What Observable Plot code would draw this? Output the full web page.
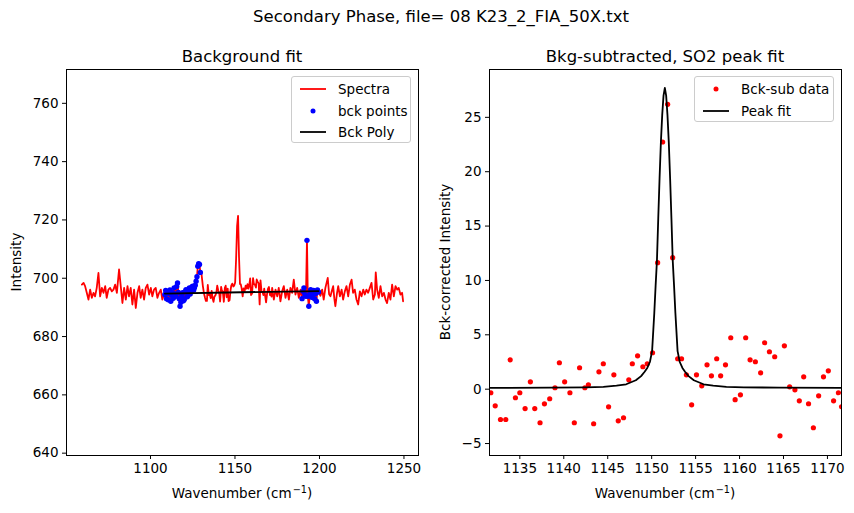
<!DOCTYPE html>
<html>
<head>
<meta charset="utf-8">
<script src="https://cdn.jsdelivr.net/npm/d3@7"></script>
<script src="https://cdn.jsdelivr.net/npm/@observablehq/plot@0.6"></script>
<style>
  html, body { margin: 0; padding: 0; background: #fff; }
  #fig { position: relative; width: 854px; height: 513px; background: #fff;
         font-family: "DejaVu Sans", sans-serif; color: #000; overflow: hidden; }
  #fig svg.panel { position: absolute; top: 0; }
  .txt { position: absolute; white-space: nowrap; line-height: 1; }
  .center { transform: translate(-50%, -50%); }
  .rot { transform: translate(-50%, -50%) rotate(-90deg); }
  .sup { font-size: 0.72em; display: inline-block; transform: translateY(-0.55em); margin-left: 1px; }
  .legend { position: absolute; background: rgba(255,255,255,0.8);
            border: 1px solid #cccccc; border-radius: 3px; box-sizing: border-box; }
  .legend .row { position: absolute; left: 0; height: 20px; display: flex; align-items: center;
                 font-size: 13.5px; }
  .legend svg { display: block; }
</style>
</head>
<body>
<div id="fig"></div>
<script>
// Raw spectrum: [wavenumber (cm-1), intensity]
const spectrum = [
  [1059.4,697.8],[1060.4,698.4],[1061.3,697.3],[1062.3,695.0],[1063.3,692.7],[1064.3,696.1],
  [1065.3,693.3],[1066.3,695.0],[1067.2,693.8],[1068.2,696.7],[1069.2,701.8],[1070.2,693.8],
  [1071.2,696.7],[1072.2,695.0],[1073.2,697.3],[1074.1,693.3],[1075.1,696.1],[1076.1,696.7],
  [1077.1,695.5],[1078.1,696.1],[1079.1,697.8],[1080.1,695.0],[1081.4,703.0],[1082.4,697.3],
  [1083.4,691.5],[1084.4,696.7],[1085.4,692.7],[1086.4,697.3],[1087.3,693.8],[1088.3,696.7],
  [1089.3,691.0],[1090.3,696.1],[1091.3,689.8],[1092.3,695.0],[1093.3,697.3],[1094.2,693.3],
  [1095.2,696.1],[1096.2,692.7],[1097.2,696.7],[1098.2,697.8],[1099.2,694.4],[1100.2,696.7],
  [1101.1,693.8],[1102.1,696.1],[1103.1,696.7],[1104.1,693.3],[1105.1,695.0],[1106.1,696.1],
  [1107.0,692.7],[1108.0,694.4],
  [1108.5,694.4],[1109.0,695.8],[1109.5,693.0],[1110.0,695.0],[1110.5,692.6],[1111.0,694.8],
  [1111.5,696.0],[1112.0,692.1],[1112.5,694.2],[1113.0,695.0],[1113.5,693.1],[1114.0,696.7],
  [1114.5,694.6],[1115.0,693.8],[1115.5,697.2],[1116.0,698.4],[1116.5,695.1],[1117.0,693.0],
  [1117.5,690.4],[1118.0,691.8],[1118.5,694.0],[1119.0,695.0],[1119.5,692.3],[1120.0,692.7],
  [1120.5,695.4],[1121.0,696.1],[1121.5,693.6],[1122.0,693.8],[1122.5,695.9],[1123.0,696.7],
  [1123.5,694.6],[1124.0,695.5],[1124.5,697.0],[1125.0,697.3],[1125.5,695.9],[1126.0,696.7],
  [1126.5,697.6],[1127.0,699.0],[1127.5,700.5],[1128.0,704.1],[1128.5,705.0],[1129.0,704.7],
  [1129.5,702.0],[1130.0,702.4],[1131.0,697.3],
  [1131.7,694.67],[1132.2,693.47],[1132.8,692.21],[1133.4,692.21],[1133.9,697.70],[1134.5,694.21],
  [1135.0,694.67],[1135.6,693.22],[1136.2,695.68],[1136.7,693.22],[1137.3,691.91],[1137.8,693.65],
  [1138.4,694.12],[1139.0,695.13],[1139.5,697.43],[1140.1,695.78],[1140.7,694.77],[1141.2,692.01],
  [1141.8,697.07],[1142.4,695.23],[1142.8,695.50],[1143.4,691.92],[1144.0,696.70],[1144.5,697.44],
  [1145.1,693.48],[1145.7,696.42],[1146.2,692.19],[1146.8,692.47],[1147.4,695.96],[1147.8,697.44],
  [1148.4,698.17],[1149.0,697.16],[1149.5,697.44],[1150.1,698.55],[1150.68,706.83],[1151.25,717.93],
  [1151.82,721.40],[1152.39,707.29],[1152.96,698.00],[1153.4,698.00],[1153.95,696.52],[1154.55,693.76],
  [1155.1,696.52],[1155.7,695.51],[1156.3,697.44],[1156.8,696.43],[1157.4,698.00],[1157.85,696.43],
  [1158.4,697.44],[1159.0,699.93],[1159.5,694.23],[1160.1,694.78],[1160.7,700.03],[1161.2,698.00],
  [1161.8,697.82],[1162.4,696.80],[1162.85,699.57],[1163.4,698.74],[1164.0,698.28],[1164.6,691.01],
  [1165.1,699.29],[1165.7,695.52],[1166.3,695.24],[1166.8,694.23],[1167.3,696.44],[1167.85,693.96],
  [1168.4,691.75],[1169.0,694.69],[1169.55,696.44],[1170.1,696.99],[1170.7,694.23],[1171.25,694.97],
  [1171.6,693.68],
  [1172.0,696.7],[1173.0,692.7],[1174.0,696.1],[1175.0,693.8],[1175.9,696.7],[1176.9,692.1],
  [1177.9,695.5],[1178.9,697.3],[1179.9,693.3],[1180.9,696.1],[1181.9,692.7],[1182.8,696.7],
  [1183.8,695.0],[1184.8,699.5],[1185.8,694.4],[1186.8,696.7],[1187.8,693.3],[1188.8,696.1],
  [1189.7,693.0],[1190.3,695.5],[1190.8,696.7],[1191.4,694.4],[1192.0,693.8],[1192.6,713.0],
  [1193.1,693.8],[1193.7,690.4],[1194.3,694.6],[1194.8,696.1],[1195.4,693.5],[1196.0,694.6],
  [1196.5,695.8],[1197.1,693.0],[1197.7,694.8],[1198.2,692.1],[1198.8,696.0],[1199.4,695.3],
  [1200.6,694.0],[1201.6,696.1],[1202.5,692.7],[1203.5,696.7],[1204.9,700.1],[1205.7,694.5],
  [1206.5,693.8],[1207.3,695.6],[1208.1,697.3],[1208.8,693.0],[1209.4,690.4],[1210.4,695.0],
  [1211.1,697.3],[1212.1,693.8],[1213.1,696.1],[1214.0,692.7],[1215.0,695.5],[1216.0,697.3],
  [1217.0,693.8],[1218.0,697.8],[1219.0,699.5],[1219.9,695.0],[1220.9,696.1],[1221.9,692.7],
  [1222.9,691.0],[1223.9,695.5],[1224.9,693.8],[1225.9,696.1],[1226.8,694.4],[1227.8,696.1],
  [1228.8,695.0],[1229.8,696.7],[1230.8,698.4],[1231.8,692.7],[1232.8,694.4],[1233.3,702.0],
  [1234.1,696.1],[1235.1,693.3],[1236.1,697.3],[1237.1,693.8],[1238.1,695.0],[1239.1,692.7],
  [1240.0,691.5],[1241.0,695.0],[1242.0,692.7],[1243.0,697.8],[1244.0,693.8],[1245.0,697.3],
  [1246.0,696.1],[1246.9,696.7],[1247.9,694.4],[1248.9,695.0],[1249.5,692.1]
];

// Wavenumber windows used as background points
const bckWindows = [[1108.4, 1129.6], [1189.6, 1199.5]];

// Fitted background polynomial
const bckPoly = [[1108.5, 694.75], [1154.0, 695.2], [1199.4, 695.6]];

// Background-subtracted data around the SO2 band
const subData = [
  [1131.7,-0.33],[1132.2,-1.53],[1132.8,-2.79],[1133.4,-2.79],[1133.9,2.70],[1134.5,-0.79],
  [1135.0,-0.33],[1135.6,-1.78],[1136.2,0.68],[1136.7,-1.78],[1137.3,-3.09],[1137.8,-1.35],
  [1138.4,-0.88],[1139.0,0.13],[1139.5,2.43],[1140.1,0.68],[1140.7,-0.33],[1141.2,-3.09],
  [1141.8,1.97],[1142.4,0.13],[1142.8,0.40],[1143.4,-3.18],[1144.0,1.60],[1144.5,2.34],
  [1145.1,-1.62],[1145.7,1.32],[1146.2,-2.91],[1146.8,-2.63],[1147.4,0.86],[1147.8,2.34],
  [1148.4,3.07],[1149.0,2.06],[1149.5,2.34],[1150.1,3.35],[1150.68,11.63],[1151.25,22.73],
  [1151.82,26.20],[1152.39,12.09],[1152.96,2.80],[1153.4,2.80],[1153.95,1.32],[1154.55,-1.44],
  [1155.1,1.32],[1155.7,0.31],[1156.3,2.24],[1156.8,1.23],[1157.4,2.80],[1157.85,1.23],
  [1158.4,2.24],[1159.0,4.73],[1159.5,-0.97],[1160.1,-0.52],[1160.7,4.73],[1161.2,2.70],
  [1161.8,2.52],[1162.4,1.50],[1162.85,4.27],[1163.4,3.44],[1164.0,2.98],[1164.6,-4.29],
  [1165.1,3.99],[1165.7,0.22],[1166.3,-0.06],[1166.8,-1.07],[1167.3,1.14],[1167.85,-1.34],
  [1168.4,-3.55],[1169.0,-0.61],[1169.55,1.14],[1170.1,1.69],[1170.7,-1.07],[1171.25,-0.33],
  [1171.6,-1.62]
];

// Peak fit curve
const peakFit = [
  [1131.5,0.12],[1138.5,0.14],[1142.5,0.17],[1144.5,0.22],[1146.0,0.32],[1147.1,0.45],
  [1148.2,0.82],[1148.8,1.2],[1149.2,1.6],[1149.5,1.95],[1149.8,2.5],[1150.05,3.5],
  [1150.3,7.0],[1150.45,9.5],[1150.6,11.8],[1150.75,15.7],[1150.9,19.4],[1151.05,22.7],
  [1151.2,25.2],[1151.35,27.0],[1151.5,27.7],[1151.65,27.0],[1151.8,25.2],[1151.95,22.7],
  [1152.1,19.4],[1152.25,15.7],[1152.4,11.8],[1152.55,9.5],[1152.7,7.0],[1152.95,3.5],
  [1153.2,2.5],[1153.5,1.95],[1153.8,1.6],[1154.2,1.2],[1154.8,0.82],[1155.9,0.45],
  [1157.0,0.32],[1158.5,0.22],[1160.5,0.17],[1164.5,0.14],[1171.7,0.12]
];

// Axis ticks
const leftXTicks = [1100, 1150, 1200, 1250];
const leftYTicks = [640, 660, 680, 700, 720, 740, 760];
const rightXTicks = [1135, 1140, 1145, 1150, 1155, 1160, 1165, 1170];
const rightYTicks = [-5, 0, 5, 10, 15, 20, 25];

// Text
const supTitle = "Secondary Phase, file= 08 K23_2_FIA_50X.txt";
const leftTitle = "Background fit";
const rightTitle = "Bkg-subtracted, SO2 peak fit";
const leftYLabel = "Intensity";
const rightYLabel = "Bck-corrected Intensity";
const leftLegend = ["Spectra", "bck points", "Bck Poly"];
const rightLegend = ["Bck-sub data", "Peak fit"];

const inWindow = d => bckWindows.some(([a, b]) => d[0] >= a && d[0] <= b);
const bckPoints = spectrum.filter(inWindow);

const fig = document.getElementById("fig");
const axisStyle = {
  fontFamily: "DejaVu Sans, sans-serif",
  fontSize: "13.5px",
  color: "#000",
  background: "transparent",
  overflow: "visible"
};
const X = d => d[0], Y = d => d[1];

const left = Plot.plot({
  width: 430, height: 513,
  marginLeft: 66, marginRight: 12, marginTop: 69, marginBottom: 58,
  style: axisStyle,
  x: { domain: [1050.3, 1258.6], ticks: leftXTicks, tickFormat: d => String(d), tickSize: 4, tickPadding: 4, label: null },
  y: { domain: [639.2, 771.6], ticks: leftYTicks, tickFormat: d => String(d), tickSize: 4, tickPadding: 4, label: null },
  marks: [
    Plot.line(spectrum, { x: X, y: Y, stroke: "red", strokeWidth: 1.8 }),
    Plot.dot(bckPoints, { x: X, y: Y, r: 2.7, fill: "blue", stroke: "none" }),
    Plot.line(bckPoly, { x: X, y: Y, stroke: "black", strokeWidth: 1.8 }),
    Plot.frame({ stroke: "black", strokeWidth: 1 })
  ]
});
left.classList.add("panel");
left.style.left = "0px";
fig.appendChild(left);

const right = Plot.plot({
  width: 424, height: 513,
  marginLeft: 59, marginRight: 13, marginTop: 69, marginBottom: 58,
  style: axisStyle,
  x: { domain: [1131.55, 1171.6], ticks: rightXTicks, tickFormat: d => String(d), tickSize: 4, tickPadding: 4, label: null },
  y: { domain: [-6.1, 29.4], ticks: rightYTicks, tickFormat: d => (d < 0 ? "\u2212" + Math.abs(d) : String(d)), tickSize: 4, tickPadding: 4, label: null },
  marks: [
    Plot.dot(subData, { x: X, y: Y, r: 2.6, fill: "red", stroke: "none", clip: true }),
    Plot.line(peakFit, { x: X, y: Y, stroke: "black", strokeWidth: 1.8, clip: true }),
    Plot.frame({ stroke: "black", strokeWidth: 1 })
  ]
});
right.classList.add("panel");
right.style.left = "430px";
fig.appendChild(right);

function addText(html, x, y, size, cls) {
  const el = document.createElement("div");
  el.className = "txt " + cls;
  el.style.left = x + "px";
  el.style.top = y + "px";
  el.style.fontSize = size + "px";
  el.innerHTML = html;
  fig.appendChild(el);
}
const wnLabel = 'Wavenumber (cm<span class="sup">\u22121</span>)';
addText(supTitle, 441, 17, 16.5, "center");
addText(leftTitle, 242, 57, 16.5, "center");
addText(rightTitle, 665, 57, 16.5, "center");
addText(wnLabel, 242, 494, 13.5, "center");
addText(wnLabel, 665, 494, 13.5, "center");
addText(leftYLabel, 17, 262, 13.5, "rot");
addText(rightYLabel, 446, 262, 13.5, "rot");

// Legends
function swatch(kind, color) {
  const s = d3.create("svg").attr("width", 28).attr("height", 20);
  if (kind === "line") {
    s.append("line").attr("x1", 2).attr("x2", 28).attr("y1", 10).attr("y2", 10)
      .attr("stroke", color).attr("stroke-width", 1.8);
  } else {
    s.append("circle").attr("cx", 15).attr("cy", 10).attr("r", 2.5).attr("fill", color);
  }
  return s.node();
}
function addLegend(x, y, w, h, entries) {
  const box = document.createElement("div");
  box.className = "legend";
  Object.assign(box.style, { left: x + "px", top: y + "px", width: w + "px", height: h + "px" });
  entries.forEach(([kind, color, label], i) => {
    const row = document.createElement("div");
    row.className = "row";
    row.style.top = (2 + i * 21.5) + "px";
    row.style.left = "6px";
    row.appendChild(swatch(kind, color));
    const t = document.createElement("span");
    t.textContent = label;
    t.style.marginLeft = "12px";
    row.appendChild(t);
    box.appendChild(row);
  });
  fig.appendChild(box);
}
addLegend(291, 76, 120, 67, [
  ["line", "red", leftLegend[0]],
  ["dot", "blue", leftLegend[1]],
  ["line", "black", leftLegend[2]]
]);
addLegend(694, 76, 140, 46, [
  ["dot", "red", rightLegend[0]],
  ["line", "black", rightLegend[1]]
]);
</script>
</body>
</html>
